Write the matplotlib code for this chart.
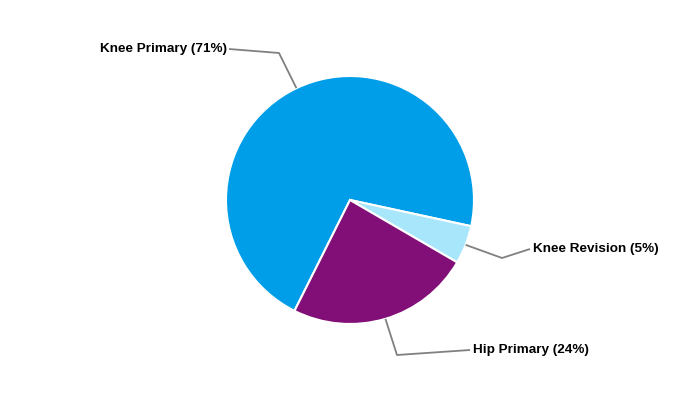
import numpy as np
import matplotlib
matplotlib.use("Agg")
import matplotlib.pyplot as plt

labels = ["Knee Primary", "Knee Revision", "Hip Primary"]
shares = [71, 5, 24]
colors = ["#009ee9", "#a8e6fb", "#820e78"]

# label layout in pixel space (x from left, y from top)
bend_px = [(279, 53), (502, 258), (397, 355)]
end_px = [(229, 49), (530, 249), (470, 350)]
align = ["right", "left", "left"]

W, H = 700, 400
CX, CY, R = 350, 200, 124

fig = plt.figure(figsize=(7, 4), dpi=100)
ax = fig.add_axes([0, 0, 1, 1])

wedges, _ = ax.pie(
    shares,
    colors=colors,
    startangle=243.4,
    counterclock=False,
    center=(CX, H - CY),
    radius=R,
    wedgeprops=dict(edgecolor="white", linewidth=1.5),
    frame=True,
)
ax.set_xlim(0, W)
ax.set_ylim(0, H)
ax.set_aspect("equal")
ax.axis("off")

for w, name, share, bend, end, ha in zip(wedges, labels, shares, bend_px, end_px, align):
    mid = np.deg2rad((w.theta1 + w.theta2) / 2)
    sx = CX + R * np.cos(mid)
    sy = (H - CY) + R * np.sin(mid)
    xs = [sx, bend[0], end[0]]
    ys = [sy, H - bend[1], H - end[1]]
    ax.plot(xs, ys, color="#808080", linewidth=1.3, solid_capstyle="butt")
    tx = end[0] - 2 if ha == "right" else end[0] + 3
    ax.text(tx, H - end[1], "{} ({}%)".format(name, share), ha=ha, va="center",
            fontsize=9.7, fontweight="bold", family="Liberation Sans", color="black")

fig.savefig("out.png", dpi=100)
